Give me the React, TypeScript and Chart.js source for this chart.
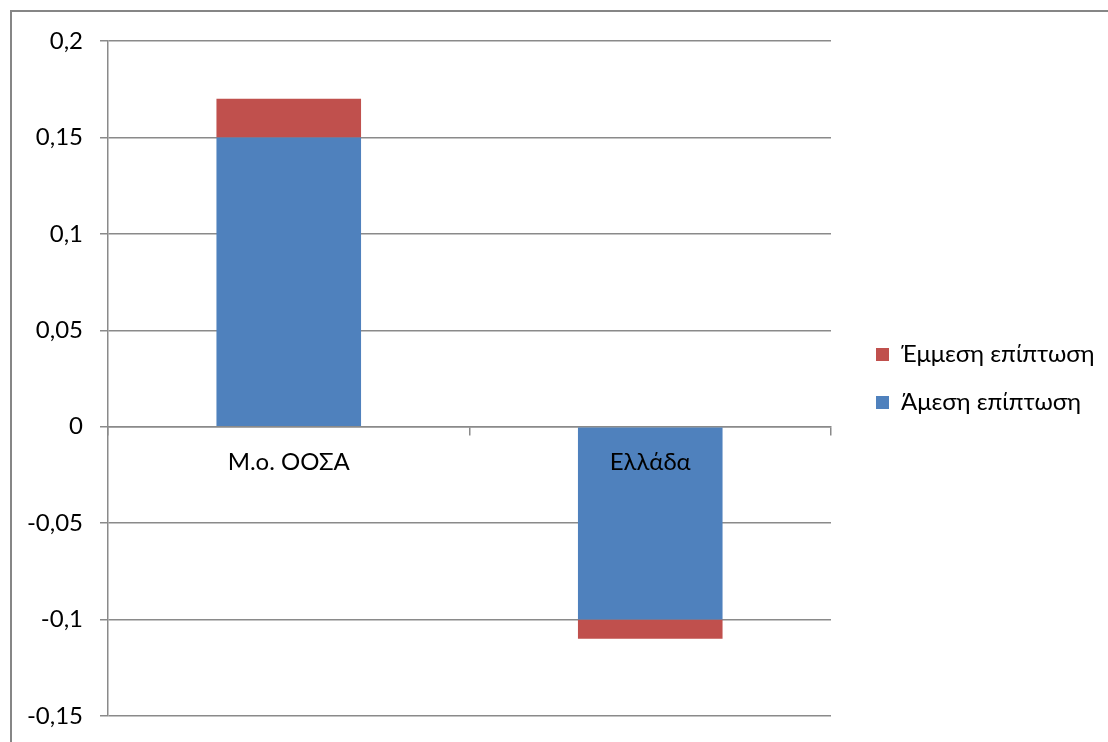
import React, { useEffect, useRef } from "react";
import { Chart, registerables } from "chart.js";

Chart.register(...registerables);

const categories = ["Μ.ο. ΟΟΣΑ", "Ελλάδα"];
const directLabel = "Άμεση επίπτωση";
const indirectLabel = "Έμμεση επίπτωση";
const directValues = [0.15, -0.1];
const indirectValues = [0.02, -0.01];
const yMin = -0.15;
const yMax = 0.2;
const yStep = 0.05;

const FONT = "Lato, 'Open Sans', 'DejaVu Sans', sans-serif";
const GRID = "#8a8a8a";
const BLUE = "#4F81BD";
const RED = "#C0504D";

function formatTick(v: number): string {
  const r = Math.round(v * 1000) / 1000;
  return String(r).replace(".", ",");
}

const legendShift = {
  id: "legendShift",
  beforeDraw(chart: any) {
    const l = chart.legend;
    if (l) {
      l.left = 852;
      l.right = 1108;
      l.width = 1108 - 852;
    }
  },
};

export default function App() {
  const ref = useRef<HTMLCanvasElement>(null);
  useEffect(() => {
    const font = { family: FONT, size: 24 };
    const chart = new Chart(ref.current as HTMLCanvasElement, {
      type: "bar",
      data: {
        labels: categories,
        datasets: [
          { label: directLabel, data: directValues, backgroundColor: BLUE, stack: "s" },
          { label: indirectLabel, data: indirectValues, backgroundColor: RED, stack: "s" },
        ],
      },
      options: {
        responsive: false,
        animation: false,
        layout: { padding: { left: 0, top: 41, bottom: 26, right: 77 } },
        datasets: { bar: { barPercentage: 1, categoryPercentage: 0.4 } } as any,
        scales: {
          x: {
            stacked: true,
            position: { y: 0 } as any,
            grid: { drawOnChartArea: false, drawTicks: true, tickLength: 8, color: GRID, lineWidth: 1.5, offset: true },
            border: { color: GRID, width: 1.5 },
            ticks: { color: "#000", font, padding: 13, z: 1 } as any,
          },
          y: {
            stacked: true,
            min: yMin,
            max: yMax,
            ticks: { stepSize: yStep, callback: (v: any) => formatTick(Number(v)), padding: 17, color: "#000", font },
            grid: { color: GRID, lineWidth: 1.5, tickLength: 8 },
            border: { color: GRID, width: 1.5 },
            afterFit: (s: any) => {
              s.width = 108;
              s.paddingTop = 0;
              s.paddingBottom = 0;
            },
          },
        },
        plugins: {
          legend: {
            position: "right",
            reverse: true,
            maxWidth: 200,
            labels: { boxWidth: 13, boxHeight: 13, padding: 24, font, color: "#000" },
          } as any,
          tooltip: { enabled: false },
        },
      },
      plugins: [legendShift],
    });
    return () => chart.destroy();
  }, []);

  return (
    <div style={{ position: "absolute", left: 0, top: 0, width: 1108, height: 742, overflow: "hidden", background: "#fff" }}>
      <div style={{ position: "absolute", left: 10, top: 10, width: 1200, height: 800, border: "2px solid #868686" }} />
      <canvas ref={ref} width={1108} height={742} style={{ position: "absolute", left: 0, top: 0 }} />
    </div>
  );
}
